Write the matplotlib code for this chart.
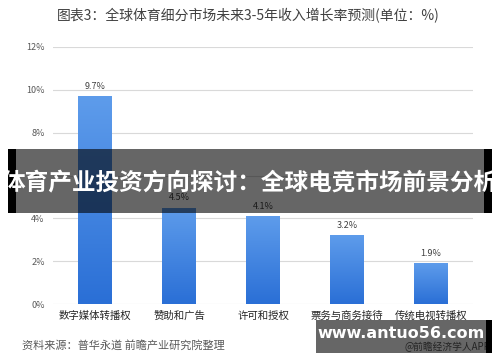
import matplotlib
matplotlib.use("Agg")
import matplotlib.pyplot as plt
import numpy as np
from matplotlib.patches import Rectangle
from matplotlib.colors import LinearSegmentedColormap

plt.rcParams['font.family'] = ['Noto Sans CJK SC', 'DejaVu Sans']

categories = ['数字媒体转播权', '赞助和广告', '许可和授权', '票务与商务接待', '传统电视转播权']
values = [9.7, 4.5, 4.1, 3.2, 1.9]
yticks = [0, 2, 4, 6, 8, 10, 12]
title = '图表3：全球体育细分市场未来3-5年收入增长率预测(单位：%)'
source = '资料来源：普华永道 前瞻产业研究院整理'
banner = '体育产业投资方向探讨：全球电竞市场前景分析'
site = 'www.antuo56.com'

W, H = 500, 362
fig = plt.figure(figsize=(W/100, H/100), dpi=100)
ax = fig.add_axes([53/W, 1-304/H, 420/W, 257/H])

x = np.arange(len(categories))
bars = ax.bar(x, values, width=0.4, color='#3f86e0', zorder=2)
grad = np.linspace(0, 1, 256).reshape(-1, 1)
cmap = LinearSegmentedColormap.from_list('b', ['#2a6fd6', '#5e9ceb'])
for b in bars:
    bx, by, bw, bh = b.get_x(), b.get_y(), b.get_width(), b.get_height()
    im = ax.imshow(grad, extent=[bx, bx+bw, by, by+bh], origin='lower', cmap=cmap,
                   aspect='auto', zorder=3)
    im.set_clip_path(b)
for xi, v in zip(x, values):
    ax.text(xi, v + 0.25, f'{v}%', ha='center', va='bottom', fontsize=6.5, color='#404040', zorder=4)

ax.set_xlim(-0.5, len(categories) - 0.5)
ax.set_ylim(0, 12)
ax.set_yticks(yticks)
ax.set_yticklabels([f'{t}%' for t in yticks], fontsize=6.5, color='#595959')
ax.set_xticks(x)
ax.set_xticklabels(categories, fontsize=7.5, color='#262626')
ax.tick_params(length=0, pad=6)
ax.tick_params(axis='x', pad=5)
ax.grid(axis='y', color='#d9d9d9', linewidth=0.8, zorder=0)
for s in ax.spines.values():
    s.set_visible(False)

fig.text(248/W, 1-16/H, title, ha='center', va='center', fontsize=10, color='#404040')
fig.text(22/W, 1-345/H, source, ha='left', va='center', fontsize=8, color='#595959')
fig.text(490/W, 1-347/H, '@前瞻经济学人APP', ha='right', va='center', fontsize=7, color='#595959')

# banner overlay
fig.patches.append(Rectangle((8/W, 1-213/H), 484/W, 64/H, transform=fig.transFigure,
                             facecolor='black', alpha=0.6, edgecolor='none', zorder=10))
fig.patches.append(Rectangle((8/W, 1-213/H), 8/W, 64/H, transform=fig.transFigure,
                             facecolor='black', edgecolor='none', zorder=11))
fig.patches.append(Rectangle((484/W, 1-213/H), 8/W, 64/H, transform=fig.transFigure,
                             facecolor='black', edgecolor='none', zorder=11))
fig.text(250/W, 1-183/H, banner, ha='center', va='center', fontsize=17, color='white',
         fontweight='bold', zorder=12)

# site watermark
fig.patches.append(Rectangle((316/W, 1-353/H), 176/W, 33/H, transform=fig.transFigure,
                             facecolor='black', alpha=0.6, edgecolor='none', zorder=10))
fig.patches.append(Rectangle((486/W, 1-353/H), 6/W, 33/H, transform=fig.transFigure,
                             facecolor='black', edgecolor='none', zorder=11))
fig.text(401/W, 1-334/H, site, ha='center', va='center', fontsize=11.5, color='white',
         fontweight='bold', family='DejaVu Sans', zorder=12)

fig.savefig('out.png', dpi=100)
